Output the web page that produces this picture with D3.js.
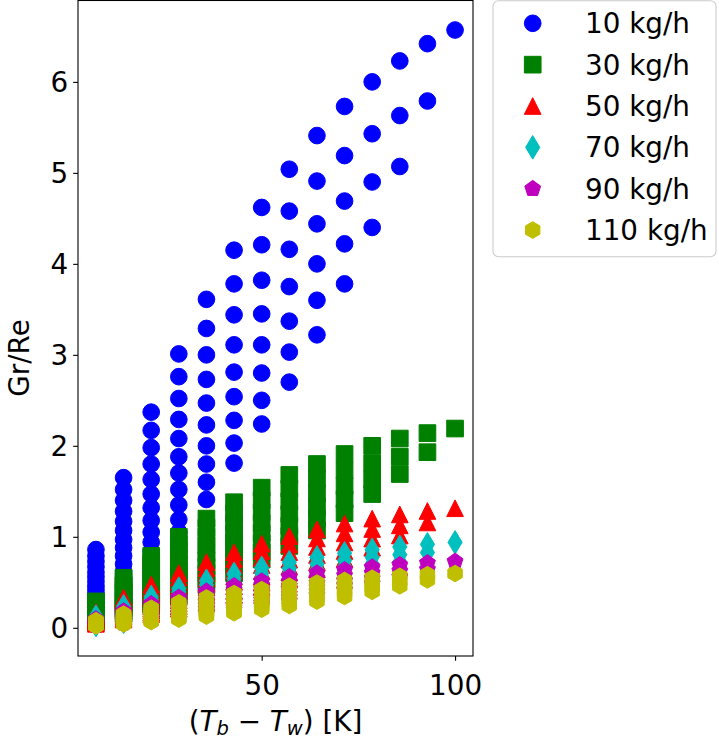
<!DOCTYPE html>
<html>
<head>
<meta charset="utf-8">
<script src="https://cdn.jsdelivr.net/npm/d3@7"></script>
<style>
  body { margin: 0; background: #fff; }
  text { font-family: "DejaVu Sans", sans-serif; }
</style>
</head>
<body>
<div id="chart"></div>
<script>
// frame
const FRAME_WIDTH = 719;
const FRAME_HEIGHT = 740;
const PLOT = {left: 78, right: 473, top: 0, bottom: 656};
const FONT = 27.8;
const MS = 16.67; // marker size in px

// x positions of the columns (T_b - T_w)
const dT = [7.14, 14.29, 21.43, 28.57, 35.71, 42.86, 50, 57.14, 64.29, 71.43, 78.57, 85.71, 92.86, 100];

// Gr/Re, one list per dT column
const gr10 = [
  [0.86, 0.79, 0.73, 0.67, 0.61, 0.56, 0.51, 0.46, 0.42, 0.38, 0.34, 0.30, 0.26, 0.22],
  [1.65, 1.52, 1.40, 1.28, 1.17, 1.07, 0.97, 0.88, 0.79, 0.70, 0.62, 0.54, 0.46],
  [2.37, 2.17, 1.98, 1.80, 1.63, 1.47, 1.32, 1.18, 1.05, 0.94, 0.84, 0.75],
  [3.01, 2.76, 2.52, 2.29, 2.08, 1.88, 1.70, 1.52, 1.35, 1.19, 1.05],
  [3.61, 3.29, 3.00, 2.73, 2.47, 2.23, 2.00, 1.80, 1.60, 1.41],
  [4.15, 3.78, 3.44, 3.11, 2.81, 2.54, 2.28, 2.03, 1.81],
  [4.62, 4.21, 3.82, 3.45, 3.11, 2.80, 2.50, 2.24],
  [5.04, 4.58, 4.16, 3.75, 3.37, 3.03, 2.70],
  [5.41, 4.91, 4.44, 4.00, 3.60, 3.22],
  [5.73, 5.19, 4.69, 4.22, 3.78],
  [6.00, 5.43, 4.90, 4.40],
  [6.23, 5.63, 5.07],
  [6.42, 5.79],
  [6.57]
];
const gr30 = [
  [0.29, 0.26, 0.24, 0.22, 0.20, 0.19, 0.17, 0.15, 0.14, 0.13, 0.11, 0.10, 0.09, 0.07],
  [0.55, 0.51, 0.47, 0.43, 0.39, 0.36, 0.32, 0.29, 0.26, 0.23, 0.21, 0.18, 0.15],
  [0.79, 0.72, 0.66, 0.60, 0.54, 0.49, 0.44, 0.39, 0.35, 0.31, 0.28, 0.25],
  [1.00, 0.92, 0.84, 0.76, 0.69, 0.63, 0.57, 0.51, 0.45, 0.40, 0.35],
  [1.20, 1.10, 1.00, 0.91, 0.82, 0.74, 0.67, 0.60, 0.53, 0.47],
  [1.38, 1.26, 1.15, 1.04, 0.94, 0.85, 0.76, 0.68, 0.60],
  [1.54, 1.40, 1.27, 1.15, 1.04, 0.93, 0.83, 0.75],
  [1.68, 1.53, 1.39, 1.25, 1.12, 1.01, 0.90],
  [1.80, 1.64, 1.48, 1.33, 1.20, 1.07],
  [1.91, 1.73, 1.56, 1.41, 1.26],
  [2.00, 1.81, 1.63, 1.47],
  [2.08, 1.88, 1.69],
  [2.14, 1.93],
  [2.19]
];
const gr50 = [
  [0.172, 0.158, 0.146, 0.134, 0.122, 0.112, 0.102, 0.092, 0.084, 0.076, 0.068, 0.060, 0.052, 0.044],
  [0.330, 0.304, 0.280, 0.256, 0.234, 0.214, 0.194, 0.176, 0.158, 0.140, 0.124, 0.108, 0.092],
  [0.474, 0.434, 0.396, 0.360, 0.326, 0.294, 0.264, 0.236, 0.210, 0.188, 0.168, 0.150],
  [0.602, 0.552, 0.504, 0.458, 0.416, 0.376, 0.340, 0.304, 0.270, 0.238, 0.210],
  [0.722, 0.658, 0.600, 0.546, 0.494, 0.446, 0.400, 0.360, 0.320, 0.282],
  [0.830, 0.756, 0.688, 0.622, 0.562, 0.508, 0.456, 0.406, 0.362],
  [0.924, 0.842, 0.764, 0.690, 0.622, 0.560, 0.500, 0.448],
  [1.008, 0.916, 0.832, 0.750, 0.674, 0.606, 0.540],
  [1.082, 0.982, 0.888, 0.800, 0.720, 0.644],
  [1.146, 1.038, 0.938, 0.844, 0.756],
  [1.200, 1.086, 0.980, 0.880],
  [1.246, 1.126, 1.014],
  [1.284, 1.158],
  [1.314]
];
const gr70 = [
  [0.123, 0.113, 0.104, 0.096, 0.087, 0.080, 0.073, 0.066, 0.060, 0.054, 0.049, 0.043, 0.037, 0.031],
  [0.236, 0.217, 0.200, 0.183, 0.167, 0.153, 0.139, 0.126, 0.113, 0.100, 0.089, 0.077, 0.066],
  [0.339, 0.310, 0.283, 0.257, 0.233, 0.210, 0.189, 0.169, 0.150, 0.134, 0.120, 0.107],
  [0.430, 0.394, 0.360, 0.327, 0.297, 0.269, 0.243, 0.217, 0.193, 0.170, 0.150],
  [0.516, 0.470, 0.429, 0.390, 0.353, 0.319, 0.286, 0.257, 0.229, 0.201],
  [0.593, 0.540, 0.491, 0.444, 0.401, 0.363, 0.326, 0.290, 0.259],
  [0.660, 0.601, 0.546, 0.493, 0.444, 0.400, 0.357, 0.320],
  [0.720, 0.654, 0.594, 0.536, 0.481, 0.433, 0.386],
  [0.773, 0.701, 0.634, 0.571, 0.514, 0.460],
  [0.819, 0.741, 0.670, 0.603, 0.540],
  [0.857, 0.776, 0.700, 0.629],
  [0.890, 0.804, 0.724],
  [0.917, 0.827],
  [0.939]
];
const gr90 = [
  [0.096, 0.088, 0.081, 0.074, 0.068, 0.062, 0.057, 0.051, 0.047, 0.042, 0.038, 0.033, 0.029, 0.024],
  [0.183, 0.169, 0.156, 0.142, 0.130, 0.119, 0.108, 0.098, 0.088, 0.078, 0.069, 0.060, 0.051],
  [0.263, 0.241, 0.220, 0.200, 0.181, 0.163, 0.147, 0.131, 0.117, 0.104, 0.093, 0.083],
  [0.334, 0.307, 0.280, 0.254, 0.231, 0.209, 0.189, 0.169, 0.150, 0.132, 0.117],
  [0.401, 0.366, 0.333, 0.303, 0.274, 0.248, 0.222, 0.200, 0.178, 0.157],
  [0.461, 0.420, 0.382, 0.346, 0.312, 0.282, 0.253, 0.226, 0.201],
  [0.513, 0.468, 0.424, 0.383, 0.346, 0.311, 0.278, 0.249],
  [0.560, 0.509, 0.462, 0.417, 0.374, 0.337, 0.300],
  [0.601, 0.546, 0.493, 0.444, 0.400, 0.358],
  [0.637, 0.577, 0.521, 0.469, 0.420],
  [0.667, 0.603, 0.544, 0.489],
  [0.692, 0.626, 0.563],
  [0.713, 0.643],
  [0.730]
];
const gr110 = [
  [0.078, 0.072, 0.066, 0.061, 0.055, 0.051, 0.046, 0.042, 0.038, 0.035, 0.031, 0.027, 0.024, 0.020],
  [0.150, 0.138, 0.127, 0.116, 0.106, 0.097, 0.088, 0.080, 0.072, 0.064, 0.056, 0.049, 0.042],
  [0.215, 0.197, 0.180, 0.164, 0.148, 0.134, 0.120, 0.107, 0.095, 0.085, 0.076, 0.068],
  [0.274, 0.251, 0.229, 0.208, 0.189, 0.171, 0.155, 0.138, 0.123, 0.108, 0.095],
  [0.328, 0.299, 0.273, 0.248, 0.225, 0.203, 0.182, 0.164, 0.145, 0.128],
  [0.377, 0.344, 0.313, 0.283, 0.255, 0.231, 0.207, 0.185, 0.165],
  [0.420, 0.383, 0.347, 0.314, 0.283, 0.255, 0.227, 0.204],
  [0.458, 0.416, 0.378, 0.341, 0.306, 0.275, 0.245],
  [0.492, 0.446, 0.404, 0.364, 0.327, 0.293],
  [0.521, 0.472, 0.426, 0.384, 0.344],
  [0.545, 0.494, 0.445, 0.400],
  [0.566, 0.512, 0.461],
  [0.584, 0.526],
  [0.597]
];

const labels = ["10 kg/h", "30 kg/h", "50 kg/h", "70 kg/h", "90 kg/h", "110 kg/h"];
const xTicks = [50, 100];
const yTicks = [0, 1, 2, 3, 4, 5, 6];

// marker look per series (matplotlib b o, g s, r ^, c d, m p, y h)
const colors = ["#0000ff", "#008000", "#ff0000", "#00bfbf", "#bf00bf", "#bfbf00"];
const markers = ["o", "s", "^", "d", "p", "h"];

// matplotlib-like marker shapes, size = marker size in px
function polygonType(n) {
  return {
    draw(ctx, size) {
      const r = size / 2;
      for (let i = 0; i < n; i++) {
        const a = -Math.PI / 2 + i * 2 * Math.PI / n;
        const px = r * Math.cos(a), py = r * Math.sin(a);
        if (i === 0) ctx.moveTo(px, py); else ctx.lineTo(px, py);
      }
      ctx.closePath();
    }
  };
}
const SHAPES = {
  "o": {draw(ctx, size) { const r = size / 2; ctx.moveTo(r, 0); ctx.arc(0, 0, r, 0, 2 * Math.PI); }},
  "s": {draw(ctx, size) { const r = size / 2; ctx.rect(-r, -r, size, size); }},
  "^": {draw(ctx, size) {
    const r = size / 2;
    ctx.moveTo(0, -r); ctx.lineTo(-r, r); ctx.lineTo(r, r); ctx.closePath();
  }},
  "d": {draw(ctx, size) {
    const h = size * Math.SQRT1_2, w = h * 0.6;
    ctx.moveTo(0, -h); ctx.lineTo(w, 0); ctx.lineTo(0, h); ctx.lineTo(-w, 0); ctx.closePath();
  }},
  "p": polygonType(5),
  "h": polygonType(6)
};

const series = [gr10, gr30, gr50, gr70, gr90, gr110].map((vals, i) => ({
  label: labels[i], color: colors[i], marker: markers[i], values: vals
}));

const svg = d3.select("#chart")
  .append("svg")
    .attr("width", FRAME_WIDTH)
    .attr("height", FRAME_HEIGHT);

const x = d3.scaleLinear()
  .domain([2.5, 104.64])
  .range([PLOT.left, PLOT.right]);

const y = d3.scaleLinear()
  .domain([-0.31, 6.9])
  .range([PLOT.bottom, PLOT.top]);

svg.append("clipPath").attr("id", "clip")
  .append("rect")
    .attr("x", PLOT.left).attr("y", PLOT.top)
    .attr("width", PLOT.right - PLOT.left)
    .attr("height", PLOT.bottom - PLOT.top);

const plotArea = svg.append("g").attr("clip-path", "url(#clip)");

// draw series in order so later ones sit on top
series.forEach((s) => {
  const pts = [];
  s.values.forEach((col, k) => col.forEach((v) => pts.push({x: dT[k], y: v})));

  plotArea.append("g")
    .selectAll("path")
    .data(pts)
    .enter()
    .append("path")
      .attr("d", d3.symbol().type(SHAPES[s.marker]).size(MS))
      .attr("transform", (d) => "translate(" + x(d.x) + "," + y(d.y) + ")")
      .attr("fill", s.color)
      .attr("stroke", s.color)
      .attr("stroke-width", 1);
});

// axes
const TICK = 4.86;
const xAxis = svg.append("g")
  .attr("transform", "translate(0," + PLOT.bottom + ")")
  .call(d3.axisBottom(x).tickValues(xTicks).tickSize(TICK).tickSizeOuter(0));
xAxis.selectAll("text")
  .attr("y", 39).attr("dy", 0)
  .attr("font-size", FONT).attr("fill", "#000");

const yAxis = svg.append("g")
  .attr("transform", "translate(" + PLOT.left + ",0)")
  .call(d3.axisLeft(y).tickValues(yTicks).tickSize(TICK).tickSizeOuter(0));
yAxis.selectAll("text")
  .attr("x", -TICK - 4.86).attr("dy", "0.36em")
  .attr("font-size", FONT).attr("fill", "#000");

[xAxis, yAxis].forEach((g) => {
  g.attr("font-family", null).attr("font-size", null);
  g.select(".domain").remove();
  g.selectAll("line").attr("stroke", "#000").attr("stroke-width", 1.1);
});

// frame (spines)
svg.append("rect")
  .attr("x", PLOT.left).attr("y", PLOT.top + 0.5)
  .attr("width", PLOT.right - PLOT.left)
  .attr("height", PLOT.bottom - PLOT.top - 0.5)
  .attr("fill", "none")
  .attr("stroke", "#000")
  .attr("stroke-width", 1.1);

// axis labels
const xl = svg.append("text")
  .attr("x", (PLOT.left + PLOT.right) / 2)
  .attr("y", 731)
  .attr("text-anchor", "middle")
  .attr("font-size", FONT);
xl.append("tspan").text("(");
xl.append("tspan").attr("font-style", "italic").text("T");
xl.append("tspan").attr("font-style", "italic").attr("font-size", 19.5).attr("dy", 4).text("b");
xl.append("tspan").attr("dy", -4).text(" \u2212 ");
xl.append("tspan").attr("font-style", "italic").text("T");
xl.append("tspan").attr("font-style", "italic").attr("font-size", 19.5).attr("dy", 4).text("w");
xl.append("tspan").attr("dy", -4).text(") [K]");

svg.append("text")
  .attr("transform", "translate(29,358) rotate(-90)")
  .attr("text-anchor", "middle")
  .attr("font-size", FONT)
  .text("Gr/Re");

// legend
const LEG = {x: 493, y: 0.7, w: 224, h: 256, rowY: 23.3, step: 41.35, mx: 532.7, tx: 585};
const legend = svg.append("g");
legend.append("rect")
  .attr("x", LEG.x).attr("y", LEG.y)
  .attr("width", LEG.w - 1).attr("height", LEG.h)
  .attr("rx", 5.5)
  .attr("fill", "#fff").attr("fill-opacity", 0.8)
  .attr("stroke", "#cccccc").attr("stroke-width", 1.1);

const rows = legend.selectAll("g.row")
  .data(series)
  .enter()
  .append("g")
    .attr("class", "row")
    .attr("transform", (d, i) => "translate(0," + (LEG.rowY + i * LEG.step) + ")");

rows.append("path")
  .attr("d", (d) => d3.symbol().type(SHAPES[d.marker]).size(MS)())
  .attr("transform", "translate(" + LEG.mx + ",0)")
  .attr("fill", (d) => d.color)
  .attr("stroke", (d) => d.color)
  .attr("stroke-width", 1);

rows.append("text")
  .attr("x", LEG.tx)
  .attr("dy", "0.36em")
  .attr("font-size", FONT)
  .text((d) => d.label);
</script>
</body>
</html>
